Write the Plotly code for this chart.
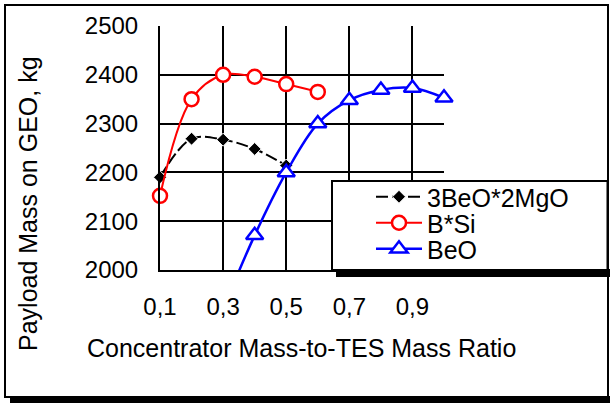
import plotly.graph_objects as go

W, H = 610, 405

# ---- data ----
x_mgo = [0.1, 0.2, 0.3, 0.4, 0.5]
y_mgo = [2190, 2269, 2267, 2248, 2214]

x_bsi = [0.1, 0.2, 0.3, 0.4, 0.5, 0.6]
y_bsi = [2152, 2350, 2400, 2396, 2381, 2365]

x_beo = [0.3, 0.4, 0.5, 0.6, 0.7, 0.8, 0.9, 1.0]
y_beo = [1920, 2071, 2200, 2300, 2348, 2369, 2373, 2353]

series_names = ["3BeO*2MgO", "B*Si", "BeO"]

x_tick_vals = [0.1, 0.3, 0.5, 0.7, 0.9]
x_tick_labels = ["0,1", "0,3", "0,5", "0,7", "0,9"]
y_tick_vals = [2000, 2100, 2200, 2300, 2400, 2500]
y_tick_labels = ["2000", "2100", "2200", "2300", "2400", "2500"]

x_title = "Concentrator Mass-to-TES Mass Ratio"
y_title = "Payload Mass on GEO, kg"

FONT = "Arial, Liberation Sans, sans-serif"


def px(v):
    return v / W


def py(v):
    return 1 - v / H


fig = go.Figure()
fig.add_trace(go.Scatter(
    x=x_mgo, y=y_mgo, name=series_names[0], mode="lines+markers",
    line=dict(color="black", width=2, dash="12px,4px", shape="spline"),
    marker=dict(symbol="diamond", size=10, color="black",
                line=dict(color="white", width=1)),
    cliponaxis=False, legend="legend",
))
fig.add_trace(go.Scatter(
    x=x_bsi, y=y_bsi, name=series_names[1], mode="lines+markers",
    line=dict(color="#ff0000", width=2, shape="spline"),
    marker=dict(symbol="circle", size=14, color="white",
                line=dict(color="#ff0000", width=2.5)),
    cliponaxis=False, legend="legend2",
))
fig.add_trace(go.Scatter(
    x=x_beo, y=y_beo, name=series_names[2], mode="lines+markers",
    line=dict(color="#0000ff", width=2.5, shape="spline"),
    marker=dict(symbol="triangle-up", size=15, color="white",
                line=dict(color="#0000ff", width=2.5)),
    cliponaxis=False, legend="legend3",
))


def box(x0, x1, y0, y1, color, layer="below"):
    return dict(type="rect", xref="paper", yref="paper", x0=px(x0), x1=px(x1),
                y0=py(y1), y1=py(y0), fillcolor=color, line=dict(width=0), layer=layer)


shapes = [
    # outer frame shadow
    box(10, 610, 396, 403, "black"),
    # outer frame (black slab with white interior)
    box(4, 609, 4, 398, "black"),
    box(6, 607, 6, 396, "white"),
    # legend box shadow
    box(336, 610, 269, 277, "black", "above"),
    # legend box
    dict(type="rect", xref="paper", yref="paper", x0=px(332), x1=px(607.5), y0=py(270), y1=py(181),
         fillcolor="white", line=dict(color="black", width=2), layer="above"),
]

legend_common = dict(
    xanchor="left", yanchor="middle", bgcolor="rgba(0,0,0,0)", borderwidth=0,
    font=dict(family=FONT, size=25, color="black"), itemwidth=46,
)
row_y = [197, 223, 249]
leg_x = 371

fig.update_layout(
    width=W, height=H,
    margin=dict(l=0, r=0, t=0, b=0),
    paper_bgcolor="white", plot_bgcolor="white",
    font=dict(family=FONT, size=24, color="black"),
    showlegend=True,
    legend=dict(x=px(leg_x), y=py(row_y[0]), **legend_common),
    legend2=dict(x=px(leg_x), y=py(row_y[1]), **legend_common),
    legend3=dict(x=px(leg_x), y=py(row_y[2]), **legend_common),
    shapes=shapes,
    xaxis=dict(
        domain=[px(160), px(444)], range=[0.1, 1.0],
        tickvals=x_tick_vals, ticktext=x_tick_labels,
        showgrid=True, gridcolor="black", gridwidth=2,
        showline=True, linecolor="black", linewidth=2,
        zeroline=False, ticks="", ticklabelstandoff=14,
        tickfont=dict(size=24), automargin=False,
    ),
    yaxis=dict(
        domain=[py(270), py(26)], range=[2000, 2500],
        tickvals=y_tick_vals, ticktext=y_tick_labels,
        showgrid=True, gridcolor="black", gridwidth=2,
        showline=True, linecolor="black", linewidth=2,
        zeroline=False, ticks="", ticklabelstandoff=15,
        tickfont=dict(size=24), automargin=False,
    ),
    annotations=[
        dict(text=x_title, xref="paper", yref="paper", x=px(301), y=py(348),
             xanchor="center", yanchor="middle", showarrow=False,
             font=dict(family=FONT, size=25, color="black")),
        dict(text=y_title, xref="paper", yref="paper", x=px(28), y=py(204),
             xanchor="center", yanchor="middle", showarrow=False, textangle=-90,
             font=dict(family=FONT, size=25, color="black")),
    ],
)

fig.write_html("out.html", config={"displayModeBar": False},
               post_script="document.body.style.margin='0';")
